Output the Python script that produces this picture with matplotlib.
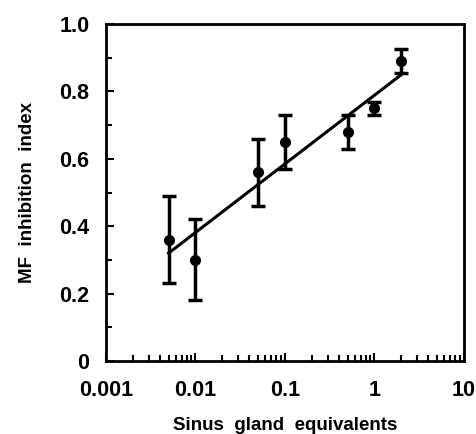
import numpy as np
import matplotlib.pyplot as plt
from matplotlib.ticker import LogLocator, FixedLocator, NullFormatter

plt.rcParams['font.family'] = ['Liberation Sans', 'DejaVu Sans']
plt.rcParams['font.weight'] = 'bold'

# data
dose = [0.005, 0.01, 0.05, 0.1, 0.5, 1, 2]
index = [0.36, 0.30, 0.56, 0.65, 0.68, 0.75, 0.89]
err = [0.13, 0.12, 0.10, 0.08, 0.05, 0.02, 0.035]

fit_x = [0.005, 2]
fit_y = [0.32, 0.85]

xticks = [0.001, 0.01, 0.1, 1, 10]
xticklabels = ['0.001', '0.01', '0.1', '1', '10']
yticks = [0, 0.2, 0.4, 0.6, 0.8, 1.0]
yticklabels = ['0', '0.2', '0.4', '0.6', '0.8', '1.0']

fig = plt.figure(figsize=(4.77, 4.34), dpi=100)
ax = fig.add_axes([106 / 477, 1 - 361 / 434, 358 / 477, 337 / 434])

ax.errorbar(dose, index, yerr=err, fmt='o', color='black', ms=7,
            elinewidth=2.5, capsize=5, capthick=2.5)
ax.plot(fit_x, fit_y, color='black', lw=2.2)

ax.set_xscale('log')
ax.set_xlim(0.001, 10)
ax.set_ylim(0, 1.0)
ax.set_xticks(xticks)
ax.set_xticklabels(xticklabels, fontsize=15.5, fontweight='bold')
ax.xaxis.set_minor_locator(LogLocator(base=10, subs=np.arange(2, 10)))
ax.xaxis.set_minor_formatter(NullFormatter())
ax.set_yticks(yticks)
ax.set_yticklabels(yticklabels, fontsize=15.5, fontweight='bold')
ax.yaxis.set_minor_locator(FixedLocator([0.1, 0.3, 0.5, 0.7, 0.9]))

ax.tick_params(which='both', direction='in', width=1.5, top=False, right=False)
ax.tick_params(which='major', length=6)
ax.tick_params(which='minor', length=4)
ax.tick_params(axis='x', which='major', pad=14)
ax.tick_params(axis='y', which='major', pad=12)
for s in ax.spines.values():
    s.set_linewidth(2)

ax.set_xlabel('Sinus  gland  equivalents', fontsize=13.5, fontweight='bold',
              labelpad=11)
ax.set_ylabel('MF  inhibition  index', fontsize=13.5, fontweight='bold',
              labelpad=17)

fig.savefig('out.png', dpi=100)
